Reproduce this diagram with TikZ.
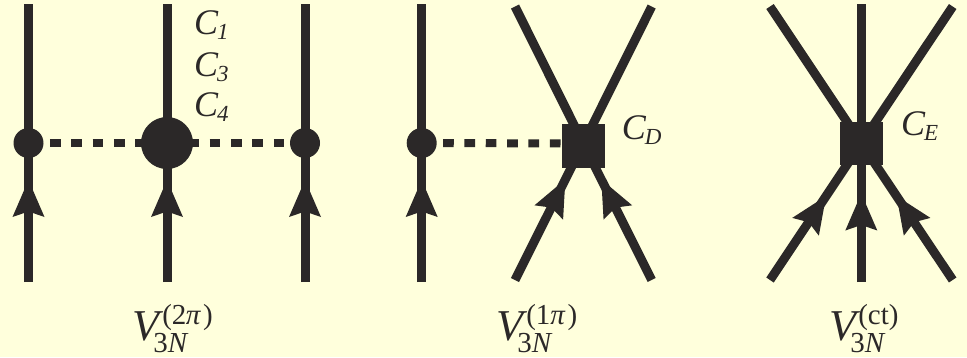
\documentclass[tikz,border=0pt]{standalone}
\usepackage{fontspec}
\setmainfont{Liberation Serif}
\usetikzlibrary{arrows.meta,decorations.markings}
\definecolor{paper}{RGB}{255,255,220}
\definecolor{ink}{RGB}{43,40,40}
\pgfdeclarelayer{paperlayer}
\pgfdeclarelayer{edgelayer}
\pgfsetlayers{paperlayer,edgelayer,main}
\newcommand{\Clabel}[1]{{\fontsize{36}{40}\selectfont\textit{C}\kern-1.5pt\raisebox{-5pt}{\fontsize{23}{26}\selectfont\textit{#1}}}}
\newcommand{\Vlabel}[2]{{\fontsize{44}{50}\selectfont\textit{V}\rlap{\kern#2\raisebox{15.5pt}{\fontsize{29}{32}\selectfont #1}}\kern-10pt\raisebox{-12.5pt}{\fontsize{29}{32}\selectfont 3\textit{N}}}}
\tikzset{
  x=1pt,y=-1pt,
  fermion/.style={draw=ink,line width=9pt},
  pion/.style={draw=ink,line width=8pt,dash pattern=on 10.7pt off 10.65pt},
  smalldot/.style={circle,fill=ink,minimum size=30pt,inner sep=0pt},
  bigdot/.style={circle,fill=ink,minimum size=52pt,inner sep=0pt},
  contact/.style={rectangle,fill=ink,minimum size=43.5pt,inner sep=0pt},
  lab/.style={anchor=base west,inner sep=0pt,text=ink},
  incoming/.style={fermion,postaction={decorate},decoration={markings,
    mark=at position #1 with {\arrow{Stealth[length=37pt,width=32pt,inset=5.5pt,line width=0pt,ink]}}}},
}
\begin{document}
\begin{tikzpicture}
\useasboundingbox (0,0) rectangle (967,357);
\begin{pgfonlayer}{paperlayer}
\fill[paper] (0,0) rectangle (967,357);
\end{pgfonlayer}
% vertices
\node[smalldot] (a1) at (28.5,143) {};
\node[bigdot]   (a2) at (167,143) {};
\node[smalldot] (a3) at (305,143) {};
\node[smalldot] (b1) at (421.7,143) {};
\node[contact]  (b2) at (583.3,146) {};
\coordinate (bx) at (583.3,143.5);
\node[contact]  (c)  at (861.3,143.3) {};
% free ends
\foreach \n/\x in {a1/28.5,a2/167,a3/305,b1/421.7,c/861.3}{
  \coordinate (\n t) at (\x,4);
  \coordinate (\n b) at (\x,282);
}
\coordinate (b2tl) at (515,6.5);
\coordinate (b2tr) at (651.7,6.5);
\coordinate (b2bl) at (515,280);
\coordinate (b2br) at (651.7,280);
\coordinate (ctl) at (770,6.5);
\coordinate (ctr) at (952.7,6.5);
\coordinate (cbl) at (770,280);
\coordinate (cbr) at (952.7,280);
\begin{pgfonlayer}{edgelayer}
\foreach \n in {a1,a2,a3,b1}{
  \draw[fermion] (\n t) -- (\n.center);
  \draw[incoming=102pt] (\n b) -- (\n.center);
}
\draw[pion] (a1.center) -- (a2.center);
\draw[pion] (a2.center) -- (a3.center);
\draw[pion] (b1.center) -- (bx);
\draw[fermion] (b2tl) -- (bx);
\draw[fermion] (b2tr) -- (bx);
\draw[incoming=112.5pt] (b2bl) -- (bx);
\draw[incoming=112.5pt] (b2br) -- (bx);
\draw[fermion] (ct) -- (c.center);
\draw[fermion] (ctl) -- (c.center);
\draw[fermion] (ctr) -- (c.center);
\draw[incoming=88.5pt] (cb) -- (c.center);
\draw[incoming=101pt] (cbl) -- (c.center);
\draw[incoming=101pt] (cbr) -- (c.center);
\end{pgfonlayer}
% labels
\node[lab] (l1) at (194,34) {\Clabel{1}};
\node[lab] (l3) at (194,76) {\Clabel{3}};
\node[lab] (l4) at (194,116.5) {\Clabel{4}};
\node[lab] (lD) at (621.7,139) {\Clabel{D}};
\node[lab] (lE) at (901,135) {\Clabel{E}};
\node[lab] (v1) at (132,340) {\Vlabel{(2\kern-.5pt\textit{π}\kern2pt)}{-1pt}};
\node[lab] (v2) at (496,340) {\Vlabel{(1\textit{π}\kern2pt)}{-1pt}};
\node[lab] (v3) at (829,340) {\Vlabel{(ct)}{-2pt}};
\end{tikzpicture}
\end{document}
